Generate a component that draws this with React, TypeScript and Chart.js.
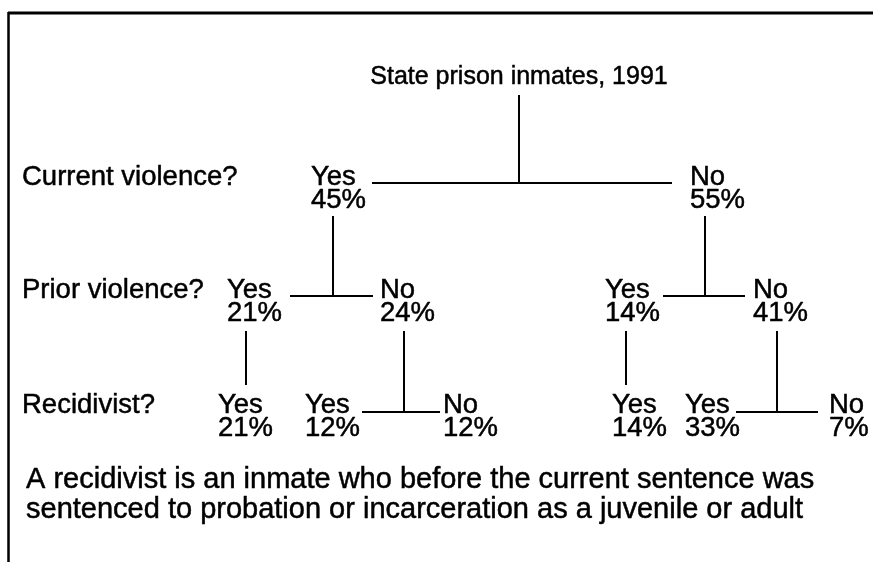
import React, { useEffect, useRef } from "react";
import { Chart, registerables } from "chart.js";

Chart.register(...registerables);

// ---------- data ----------
const rootTitle = "State prison inmates, 1991";
const questions = ["Current violence?", "Prior violence?", "Recidivist?"];
const level1Answers = ["Yes", "No"];
const level1Shares = [45, 55];
const level2Answers = ["Yes", "No", "Yes", "No"];
const level2Shares = [21, 24, 14, 41];
const level2Parent = [0, 0, 1, 1];
const level3Answers = ["Yes", "Yes", "No", "Yes", "Yes", "No"];
const level3Shares = [21, 12, 12, 14, 33, 7];
const level3Parent = [0, 1, 1, 2, 3, 3];
const footnote = [
  "A recidivist is an inmate who before the current sentence was",
  "sentenced to probation or incarceration as a juvenile or adult",
];

// ---------- layout (pixels in a 873 x 562 frame) ----------
const W = 873;
const H = 562;
const FONT = '"Liberation Sans", Arial, Helvetica, sans-serif';
const LABEL_SIZE = 27.5;
const TITLE_SIZE = 25;
const NOTE_SIZE = 29;
const titleLayout = { x: 519, y: 84, stemTop: 95 };
const rowLayout = [
  { label: 185, share: 208, bar: 183, stemTop: 216 },
  { label: 298, share: 321, bar: 296, stemTop: 331 },
  { label: 413, share: 436, bar: 412, stemBottom: 385 },
];
const questionX = 22;
const level1Layout = [
  { x: 311, stem: 333 },
  { x: 690, stem: 705 },
];
const level2Layout = [
  { x: 227, stem: 246 },
  { x: 380, stem: 404 },
  { x: 605, stem: 626 },
  { x: 753, stem: 777 },
];
const level3Layout = [{ x: 218 }, { x: 305 }, { x: 443 }, { x: 612 }, { x: 685 }, { x: 829 }];
const rootBar = { x0: 372, x1: 672 };
const level1Bars = [
  { x0: 290, x1: 373 },
  { x0: 663, x1: 745 },
];
const level2Bars: Record<number, { x0: number; x1: number }> = {
  1: { x0: 362, x1: 440 },
  3: { x0: 736, x1: 818 },
};
const noteLayout = { x: 26, y: [488, 518] };

type Seg = { pts: { x: number; y: number }[]; w: number };

function buildSegments(): Seg[] {
  const segs: Seg[] = [];
  const seg = (x0: number, y0: number, x1: number, y1: number, w = 2) =>
    segs.push({ pts: [{ x: x0, y: y0 }, { x: x1, y: y1 }], w });
  // frame
  seg(8, 13, W, 13, 3);
  seg(8.5, 12, 8.5, H, 2.5);
  // root
  seg(titleLayout.x, titleLayout.stemTop, titleLayout.x, rowLayout[0].bar);
  seg(rootBar.x0, rowLayout[0].bar, rootBar.x1, rowLayout[0].bar);
  // level 1 -> level 2
  level1Answers.forEach((_, i) => {
    const kids = level2Parent.filter((p) => p === i).length;
    const s = level1Layout[i].stem;
    seg(s, rowLayout[0].stemTop, s, rowLayout[1].bar);
    if (kids === 2) seg(level1Bars[i].x0, rowLayout[1].bar, level1Bars[i].x1, rowLayout[1].bar);
  });
  // level 2 -> level 3
  level2Answers.forEach((_, i) => {
    const kids = level3Parent.filter((p) => p === i).length;
    const s = level2Layout[i].stem;
    if (kids === 2) {
      seg(s, rowLayout[1].stemTop, s, rowLayout[2].bar);
      seg(level2Bars[i].x0, rowLayout[2].bar, level2Bars[i].x1, rowLayout[2].bar);
    } else {
      seg(s, rowLayout[1].stemTop, s, rowLayout[2].stemBottom as number);
    }
  });
  return segs;
}

const textPlugin = {
  id: "treeText",
  afterDatasetsDraw(chart: any) {
    const ctx = chart.ctx as CanvasRenderingContext2D;
    const xs = chart.scales.x;
    const ys = chart.scales.y;
    const px = (v: number) => xs.getPixelForValue(v);
    const py = (v: number) => ys.getPixelForValue(v);
    ctx.save();
    ctx.fillStyle = "#000";
    ctx.strokeStyle = "#000";
    ctx.lineWidth = 0.5;
    ctx.lineJoin = "round";
    ctx.textBaseline = "alphabetic";
    ctx.textAlign = "left";
    const put = (t: string, x: number, y: number) => {
      ctx.fillText(t, px(x), py(y));
      ctx.strokeText(t, px(x), py(y));
    };
    // title
    ctx.font = `${TITLE_SIZE}px ${FONT}`;
    ctx.textAlign = "center";
    put(rootTitle, titleLayout.x, titleLayout.y);
    ctx.textAlign = "left";
    // questions
    ctx.font = `${LABEL_SIZE}px ${FONT}`;
    questions.forEach((q, i) => put(q, questionX, rowLayout[i].label));
    const drawNodes = (answers: string[], shares: number[], lay: any[], row: any) => {
      answers.forEach((a, i) => {
        put(a, lay[i].x, row.label);
        put(`${shares[i]}%`, lay[i].x, row.share);
      });
    };
    drawNodes(level1Answers, level1Shares, level1Layout, rowLayout[0]);
    drawNodes(level2Answers, level2Shares, level2Layout, rowLayout[1]);
    drawNodes(level3Answers, level3Shares, level3Layout, rowLayout[2]);
    // footnote
    ctx.font = `${NOTE_SIZE}px ${FONT}`;
    footnote.forEach((t, i) => put(t, noteLayout.x, noteLayout.y[i]));
    ctx.restore();
  },
};

export default function App() {
  const ref = useRef<HTMLCanvasElement | null>(null);
  useEffect(() => {
    document.body.style.margin = "0";
    document.body.style.background = "#fff";
    const segs = buildSegments();
    const chart = new Chart(ref.current as HTMLCanvasElement, {
      type: "scatter",
      data: {
        datasets: segs.map((s) => ({
          data: s.pts,
          showLine: true,
          borderColor: "#000",
          borderWidth: s.w,
          pointRadius: 0,
          pointHoverRadius: 0,
          fill: false,
          borderCapStyle: "butt",
        })),
      },
      options: {
        animation: false,
        responsive: false,
        devicePixelRatio: 1,
        layout: { padding: 0 },
        plugins: { legend: { display: false }, tooltip: { enabled: false } },
        events: [],
        scales: {
          x: { type: "linear", min: 0, max: W, display: false },
          y: { type: "linear", min: 0, max: H, reverse: true, display: false },
        },
      } as any,
      plugins: [textPlugin],
    });
    return () => chart.destroy();
  }, []);
  return (
    <div style={{ position: "fixed", left: 0, top: 0, width: W, height: H, background: "#fff" }}>
      <canvas ref={ref} width={W} height={H} style={{ width: W, height: H, display: "block" }} />
    </div>
  );
}
